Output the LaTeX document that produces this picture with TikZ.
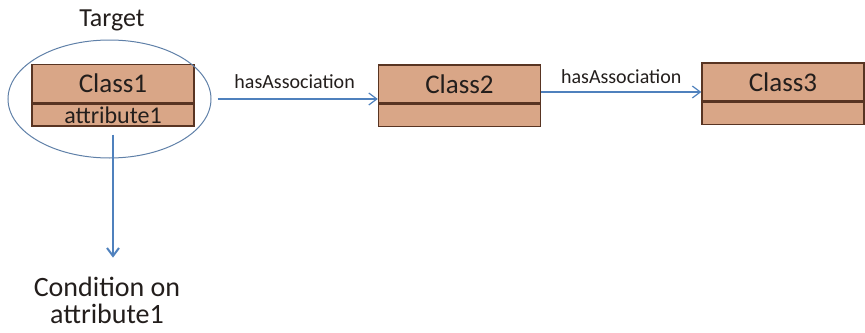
\documentclass[tikz,border=0pt]{standalone}
\usepackage{fontspec}
\setmainfont{Carlito}
\usepackage{xcolor}
\usetikzlibrary{positioning,arrows.meta,shapes.geometric}

\definecolor{clsfill}{RGB}{217,166,135}
\definecolor{clsline}{RGB}{88,52,34}
\definecolor{flowblue}{RGB}{79,129,189}
\definecolor{ringblue}{RGB}{95,128,168}
\definecolor{inktext}{RGB}{35,30,28}

\begin{document}
\begin{tikzpicture}[x=0.5pt, y=-0.5pt, node distance=0pt,
  every node/.style={text=inktext},
  cls/.style={draw=clsline, fill=clsfill, line width=0.7pt, minimum width=81pt, minimum height=19pt, inner sep=0pt, font=\fontsize{13.5}{15}\selectfont},
  attr/.style={draw=clsline, fill=clsfill, line width=0.7pt, minimum width=81pt, minimum height=11pt, inner sep=0pt, font=\fontsize{12}{13}\selectfont},
  flow/.style={draw=flowblue, line width=0.6pt, -{Straight Barb[length=4pt,width=6pt]}},
  lbl/.style={font=\fontsize{10}{12}\selectfont, inner sep=2pt}]
\useasboundingbox (0,0) rectangle (865,332);
% classes
\node[cls] (c1) at (113,83.5) {Class1};
\node[attr, below=of c1] (c1a) {attribute1};
\node[cls] (c2) at (459.5,84) {Class2};
\node[attr, below=of c2] (c2a) {};
\node[cls] (c3) at (783,82) {Class3};
\node[attr, below=of c3] (c3a) {};
% target ring
\node[ellipse, draw=ringblue, line width=0.5pt, minimum width=101.5pt, minimum height=59pt, inner sep=0pt] (target) at (109.5,99) {};
\node[font=\fontsize{13}{14}\selectfont] (tlabel) at (112,20) {Target};
\node[align=center, font=\fontsize{14}{13.5}\selectfont] (cond) at (107,300) {Condition on\\attribute1};
% associations
\draw[flow, shorten <=3pt] (target.east) -- node[lbl, above, yshift=3pt] (a1) {hasAssociation} (target.east -| c2.west);
\draw[flow] ([yshift=-4pt]c2.east) -- node[lbl, above, yshift=2pt] (a2) {hasAssociation} ([yshift=-4pt]c2.east -| c3.west);
\draw[flow, line width=1pt, shorten <=4pt, shorten >=6pt] (c1a.south) -- (c1a.south |- cond.north);
\end{tikzpicture}
\end{document}
